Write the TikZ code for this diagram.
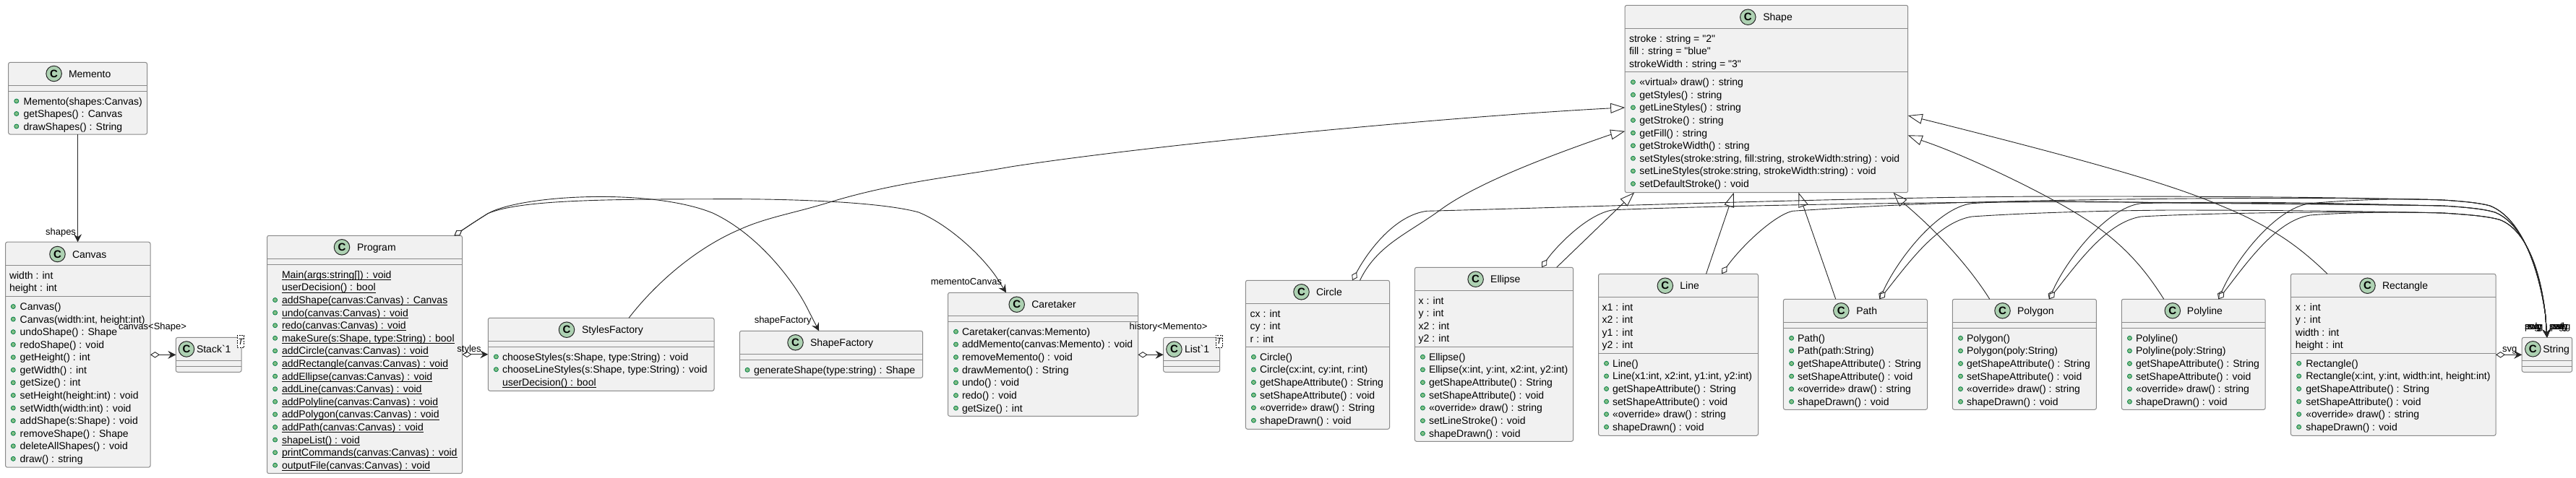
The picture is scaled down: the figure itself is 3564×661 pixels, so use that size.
\documentclass[tikz,border=0pt]{standalone}
\usepackage{fontspec}
\usetikzlibrary{arrows.meta,calc}
\newfontfamily\umlf{Liberation Sans}
\definecolor{boxfill}{HTML}{F1F1F1}
\definecolor{boxline}{HTML}{8A8A8A}
\definecolor{iconfill}{HTML}{ADD1B2}
\definecolor{bulfill}{HTML}{84BE84}
\definecolor{bulline}{HTML}{038048}
\definecolor{ink}{HTML}{262626}
\tikzset{
  classbox/.style={draw=boxline,fill=boxfill,line width=1pt,rounded corners=2.5pt,inner sep=0,outer sep=0,anchor=north west},
  sepline/.style={draw=boxline,line width=1pt},
  txt/.style={font=\umlf\fontsize{14}{16}\selectfont,text=black,inner sep=0,outer sep=0,anchor=base west},
  lab/.style={font=\umlf\fontsize{13}{15}\selectfont,text=black,inner sep=0,outer sep=0},
  cicon/.style={circle,draw=ink,fill=iconfill,line width=1pt,minimum size=21.5pt,inner sep=0,font=\umlf\bfseries\fontsize{15}{15}\selectfont},
  bullet/.style={fill=bulfill,draw=bulline,line width=.8pt},
  tbox/.style={draw=black,dashed,dash pattern=on 2pt off 1.5pt,line width=.7pt,fill=white,inner sep=0,minimum width=9.5pt,minimum height=17pt,font=\umlf\itshape\fontsize{12}{12}\selectfont},
  conn/.style={draw=ink,line width=.9pt},
  assoc/.style={conn,-{Stealth[length=11pt,width=11pt,inset=4pt]}},
  aggr/.style={conn,{Diamond[length=13pt,width=8.5pt,fill=white]}-{Stealth[length=11pt,width=11pt,inset=4pt]}},
  inhr/.style={conn,-{Triangle[length=20pt,width=14pt,fill=white]}}
}
\newcommand\ulx[1]{\setbox0\hbox{#1}\rlap{\rule[-2.6pt]{\wd0}{.9pt}}\box0}
\newcount\rowid
\newcommand\rowsat[5]{\gdef\rowax{#1}\gdef\rowbx{#2}\gdef\rowtx{#3}\gdef\rowy{#4}\gdef\rowstep{#5}}
\newcommand\rowadv{\pgfmathsetmacro\rowtmp{\rowy+\rowstep}\global\let\rowy\rowtmp}
\newcommand\rowA[1]{\global\advance\rowid 1 \node[txt] (row\the\rowid) at (\rowax,\rowy+5) {#1};\rowadv}
\newcommand\rowM[1]{\global\advance\rowid 1 \path[bullet] (\rowbx,\rowy) circle (3pt);\node[txt] (row\the\rowid) at (\rowtx,\rowy+5) {#1};\rowadv}
\newcommand\rowV[1]{\global\advance\rowid 1 \node[txt] (row\the\rowid) at (\rowtx,\rowy+5) {\ulx{#1}};\rowadv}
\newcommand\rowU[1]{\rowM{\ulx{#1}}}
% id x0 y0 x1 y1 line1 line2 cx cy tx title
\newcommand\umlclass[9]{\node[classbox,minimum width={(#4-#2)*1pt},minimum height={(#5-#3)*1pt}] (#1) at (#2,#3) {};
  \draw[sepline] (#2,#6) -- (#4,#6);\draw[sepline] (#2,#7) -- (#4,#7);
  \node[cicon] (#1-icon) at (#8,#9) {C};\umltitle{#1}{#9}}
\newcommand\umltitle[4]{\node[txt] (#1-title) at (#3,#2+5) {#4};}
\newcommand\tailA{.. controls (3410,279) and (3430,281) .. (3445,285) .. controls (3490,303) and (3513,375) .. (3521.7,436.7) -- (sT)}
\newcommand\tailB{.. controls (3410,287) and (3435,289) .. (3451.7,294) .. controls (3492,310) and (3514,375) .. (3521.7,436.7) -- (sT)}
\newcommand\tailC{.. controls (3410,297) and (3440,299) .. (3458.3,304.3) .. controls (3495,318) and (3515,375) .. (3521.7,436.7) -- (sT)}
\begin{document}
\begin{tikzpicture}[x=1pt,y=-1pt]
\useasboundingbox (0,0) rectangle (3564,661);
% ---- classes
\umlclass{Memento}{11.6}{86.4}{203.6}{186}{118.3}{126.3}{74.6}{102}{95}{Memento}
\rowsat{0}{22.8}{32.6}{140}{17.5}
\rowM{Memento(shapes:Canvas)}\rowM{getShapes() : Canvas}\rowM{drawShapes() : String}

\umlclass{Canvas}{7.6}{335.2}{208}{647.2}{367.4}{410.3}{79.5}{352}{100}{Canvas}
\rowsat{13}{18.3}{27.7}{381.2}{17}
\rowA{width : int}\rowA{height : int}
\rowsat{13}{18.3}{27.7}{424.5}{17.57}
\rowM{Canvas()}\rowM{Canvas(width:int, height:int)}\rowM{undoShape() : Shape}\rowM{redoShape() : void}\rowM{getHeight() : int}\rowM{getWidth() : int}\rowM{getSize() : int}\rowM{setHeight(height:int) : void}\rowM{setWidth(width:int) : void}\rowM{addShape(s:Shape) : void}\rowM{removeShape() : Shape}\rowM{deleteAllShapes() : void}\rowM{draw() : string}

\umlclass{Stack}{243.3}{467.4}{334}{515.3}{499.3}{507.3}{258}{483.5}{272}{Stack`1}
\node[tbox] (StackT) at (333,473) {T};

\umlclass{Program}{369.5}{326.3}{639.5}{655.7}{358.3}{366}{473}{342.3}{494}{Program}
\rowsat{0}{380.6}{390}{380.3}{17.6}
\rowV{Main(args:string[]) : void}\rowV{userDecision() : bool}
\rowU{addShape(canvas:Canvas) : Canvas}\rowU{undo(canvas:Canvas) : void}\rowU{redo(canvas:Canvas) : void}\rowU{makeSure(s:Shape, type:String) : bool}\rowU{addCircle(canvas:Canvas) : void}\rowU{addRectangle(canvas:Canvas) : void}\rowU{addEllipse(canvas:Canvas) : void}\rowU{addLine(canvas:Canvas) : void}\rowU{addPolyline(canvas:Canvas) : void}\rowU{addPolygon(canvas:Canvas) : void}\rowU{addPath(canvas:Canvas) : void}\rowU{shapeList() : void}\rowU{printCommands(canvas:Canvas) : void}\rowU{outputFile(canvas:Canvas) : void}

\umlclass{Styles}{675.3}{440.3}{988}{541.3}{472.3}{480.3}{784}{456.7}{805}{StylesFactory}
\rowsat{0}{686.4}{695}{494}{17.65}
\rowM{chooseStyles(s:Shape, type:String) : void}\rowM{chooseLineStyles(s:Shape, type:String) : void}\rowV{userDecision() : bool}

\umlclass{SFactory}{1023.4}{458.3}{1276.6}{523.3}{490.3}{498.3}{1100.5}{474.3}{1121}{ShapeFactory}
\rowsat{0}{1034}{1043}{512.3}{17.6}
\rowM{generateShape(type:string) : Shape}

\umlclass{Caretaker}{1311.5}{405.3}{1574.6}{576.3}{437.3}{445.3}{1406.7}{421.7}{1427.3}{Caretaker}
\rowsat{0}{1322.5}{1331}{459.3}{17.65}
\rowM{Caretaker(canvas:Memento)}\rowM{addMemento(canvas:Memento) : void}\rowM{removeMemento() : void}\rowM{drawMemento() : String}\rowM{undo() : void}\rowM{redo() : void}\rowM{getSize() : int}

\umlclass{ListT}{1609.6}{467.3}{1687.6}{515.3}{499.3}{507}{1624.4}{483.7}{1639}{List`1}
\node[tbox] (ListTT) at (1686.7,472.7) {T};

\umlclass{CircleC}{1723.4}{388.3}{1922.5}{594.3}{420.3}{480.3}{1800.5}{404.3}{1821}{Circle}
\rowsat{1729.7}{0}{0}{434.3}{17.4}
\rowA{cx : int}\rowA{cy : int}\rowA{r : int}
\rowsat{0}{1734.4}{1743}{494.3}{17.6}
\rowM{Circle()}\rowM{Circle(cx:int, cy:int, r:int)}\rowM{getShapeAttribute() : String}\rowM{setShapeAttribute() : void}\rowM{«override» draw() : String}\rowM{shapeDrawn() : void}

\umlclass{EllipseC}{1957.4}{370.3}{2176.6}{611.3}{402.3}{480.3}{2041.6}{386.7}{2062.2}{Ellipse}
\rowsat{1962.7}{0}{0}{416.3}{17.4}
\rowA{x : int}\rowA{y : int}\rowA{x2 : int}\rowA{y2 : int}
\rowsat{0}{1968.4}{1977}{494.3}{17.67}
\rowM{Ellipse()}\rowM{Ellipse(x:int, y:int, x2:int, y2:int)}\rowM{getShapeAttribute() : String}\rowM{setShapeAttribute() : void}\rowM{«override» draw() : string}\rowM{setLineStroke() : void}\rowM{shapeDrawn() : void}

\umlclass{LineC}{2211.5}{379.3}{2432.5}{603.3}{411.3}{489.3}{2303.8}{395.7}{2324.4}{Line}
\rowsat{2216.7}{0}{0}{425.3}{17.4}
\rowA{x1 : int}\rowA{x2 : int}\rowA{y1 : int}\rowA{y2 : int}
\rowsat{0}{2222.5}{2231}{503.3}{17.6}
\rowM{Line()}\rowM{Line(x1:int, x2:int, y1:int, y2:int)}\rowM{getShapeAttribute() : String}\rowM{setShapeAttribute() : void}\rowM{«override» draw() : string}\rowM{shapeDrawn() : void}

\umlclass{Shape}{2248.2}{7.3}{2639.7}{266.7}{39.3}{99.3}{2418.3}{23.7}{2439.3}{Shape}
\rowsat{2254}{0}{0}{53.3}{17.5}
\rowA{stroke : string = "2"}\rowA{fill : string = "blue"}\rowA{strokeWidth : string = "3"}
\rowsat{0}{2259.4}{2268.3}{113.7}{17.6}
\rowM{«virtual» draw() : string}\rowM{getStyles() : string}\rowM{getLineStyles() : string}\rowM{getStroke() : string}\rowM{getFill() : string}\rowM{getStrokeWidth() : string}\rowM{setStyles(stroke:string, fill:string, strokeWidth:string) : void}\rowM{setLineStyles(stroke:string, strokeWidth:string) : void}\rowM{setDefaultStroke() : void}

\umlclass{PathC}{2467.4}{414.3}{2666.5}{567.3}{446.3}{454.3}{2547.3}{430.3}{2568.3}{Path}
\rowsat{0}{2478.6}{2487}{468.3}{17.6}
\rowM{Path()}\rowM{Path(path:String)}\rowM{getShapeAttribute() : String}\rowM{setShapeAttribute() : void}\rowM{«override» draw() : string}\rowM{shapeDrawn() : void}

\umlclass{PolygonC}{2701.3}{414.3}{2900.4}{567.3}{446.3}{454.3}{2770.5}{430.3}{2791}{Polygon}
\rowsat{0}{2712.5}{2721}{468.3}{17.6}
\rowM{Polygon()}\rowM{Polygon(poly:String)}\rowM{getShapeAttribute() : String}\rowM{setShapeAttribute() : void}\rowM{«override» draw() : string}\rowM{shapeDrawn() : void}

\umlclass{PolylineC}{2935.3}{414.3}{3134.2}{567.3}{446.3}{454.3}{3005.8}{430.3}{3025.9}{Polyline}
\rowsat{0}{2946.4}{2955}{468.3}{17.6}
\rowM{Polyline()}\rowM{Polyline(poly:String)}\rowM{getShapeAttribute() : String}\rowM{setShapeAttribute() : void}\rowM{«override» draw() : string}\rowM{shapeDrawn() : void}

\umlclass{RectC}{3169.4}{379.3}{3453}{603.3}{411.3}{489.3}{3275.5}{395.7}{3296}{Rectangle}
\rowsat{3175.9}{0}{0}{425.3}{17.4}
\rowA{x : int}\rowA{y : int}\rowA{width : int}\rowA{height : int}
\rowsat{0}{3180.6}{3190.3}{503.3}{17.6}
\rowM{Rectangle()}\rowM{Rectangle(x:int, y:int, width:int, height:int)}\rowM{getShapeAttribute() : String}\rowM{setShapeAttribute() : void}\rowM{«override» draw() : string}\rowM{shapeDrawn() : void}

\umlclass{StringC}{3489.2}{467.3}{3558.6}{515.3}{499.3}{507.3}{3504.3}{483.3}{3518.3}{String}

% ---- connector ports
\coordinate (pP) at ([xshift=-11pt]Program.north east);
\coordinate (pSF) at ([xshift=-17pt]SFactory.north);
\coordinate (pCT) at ([xshift=-51pt]Caretaker.north);
\coordinate (pSt) at ([xshift=38.4pt]Styles.north);
\coordinate (tL1) at ([yshift=-141.7pt]Shape.north west);
\coordinate (tL2) at ([yshift=-174.4pt]Shape.north west);
\coordinate (tR1) at ([yshift=-152.7pt]Shape.north east);
\coordinate (tR2) at ([yshift=-180pt]Shape.north east);
\coordinate (iC) at ([xshift=58.5pt]CircleC.north);
\coordinate (iE) at ([xshift=86.6pt]EllipseC.north);
\coordinate (iL) at ([xshift=38.5pt]LineC.north);
\coordinate (iPa) at ([xshift=-27.2pt]PathC.north);
\coordinate (iPg) at ([xshift=-48.1pt]PolygonC.north);
\coordinate (iPl) at ([xshift=-41pt]PolylineC.north);
\coordinate (iR) at ([xshift=-91.2pt]RectC.north);
\coordinate (tB1) at ([xshift=12.8pt]Shape.south west);
\coordinate (tB2) at ([xshift=150.5pt]Shape.south west);
\coordinate (tB3) at ([xshift=240.2pt]Shape.south west);
\coordinate (tB4) at ([xshift=371.3pt]Shape.south west);
\coordinate (dC) at ([xshift=48pt]CircleC.north);
\coordinate (dE) at ([xshift=66pt]EllipseC.north);
\coordinate (dL) at ([xshift=60pt]LineC.north);
\coordinate (dPa) at ([xshift=33.5pt]PathC.north);
\coordinate (dPg) at ([xshift=34pt]PolygonC.north);
\coordinate (dPl) at ([xshift=34.5pt]PolylineC.north);
\coordinate (sT) at (StringC.north);

% ---- inheritance
\draw[inhr] (pSt) .. controls (905,395) and (960,345) .. (1023,318) .. controls (1060,301) and (1100,295) .. (1148,280) .. controls (1240,252) and (1320,245) .. (1400,230.7) .. controls (1600,200) and (2000,162) .. (2226,150) -- (tL1);
\draw[inhr] (iC) .. controls (1905,340) and (1945,325) .. (1991,292) .. controls (2040,255) and (2140,217) .. (2226.6,187) -- (tL2);
\draw[inhr] (iE) -- (tB1);
\draw[inhr] (iL) -- (tB2);
\draw[inhr] (iPa) -- (tB3);
\draw[inhr] (iPg) .. controls (2725,370) and (2680,320) .. (2632,280) -- (tB4);
\draw[inhr] (iPl) .. controls (2975,385) and (2945,340) .. (2880,300) .. controls (2830,268) and (2720,215) .. (2660,195) -- (tR2);
\draw[inhr] (iR) .. controls (3195,355) and (3170,335) .. (3144,320) .. controls (3110,300) and (3090,292) .. (3061,280) .. controls (3000,255) and (2900,225) .. (2660,165) -- (tR1);

% ---- simple associations
\draw[assoc] (Memento.south) -- (Memento.south |- Canvas.north);
\draw[aggr] (Canvas.east |- Stack.center) -- (Stack.west);
\draw[aggr] (Program.east |- Styles.center) -- (Styles.west);
\draw[aggr] (Caretaker.east |- ListT.center) -- (ListT.west);
\draw[aggr] (RectC.east |- StringC.center) -- (StringC.west);

% ---- Program arcs
\draw[aggr] (pP) .. controls (645,315) and (660,305) .. (675,295.7) .. controls (720,270) and (900,260) .. (986,295) .. controls (1050,325) and (1098,390) .. (1116,425) -- (pSF);
\draw[aggr] (pP) .. controls (645,315) and (660,305) .. (675,295.7) .. controls (720,276) and (850,276) .. (986,275.7) .. controls (1100,275) and (1220,280) .. (1271,294) .. controls (1310,310) and (1355,350) .. (1378,383) -- (pCT);

% ---- bundle into String
\draw[aggr] (dC) .. controls (1893,347) and (1930,298) .. (1974,292.3) .. controls (2150,288) and (2600,272) .. (2850,272) .. controls (3000,272) and (3200,272) .. (3380,277) \tailA;
\draw[aggr] (dE) .. controls (2150,345) and (2195,296) .. (2232,290.7) .. controls (2400,284) and (2700,279.7) .. (2850,279.7) .. controls (3000,280) and (3200,282) .. (3380,285) \tailB;
\draw[aggr] (dL) .. controls (2410,340) and (2455,298) .. (2480,292.3) .. controls (2560,287) and (2640,283) .. (2700,281) .. controls (2900,275) and (3200,272) .. (3380,277) \tailA;
\draw[aggr] (dPa) .. controls (2625,360) and (2680,288) .. (2728,281.7) .. controls (2800,277) and (2900,279) .. (3000,281) .. controls (3100,282) and (3250,283) .. (3380,285) \tailB;
\draw[aggr] (dPa) .. controls (2640,365) and (2680,308) .. (2728,300) .. controls (2800,295) and (2900,292) .. (3000,291) .. controls (3100,291) and (3250,292) .. (3380,295) \tailC;
\draw[aggr] (dPg) .. controls (2859,360) and (2914,288) .. (2962,281.7) .. controls (3100,278) and (3250,282) .. (3380,285) \tailB;
\draw[aggr] (dPg) .. controls (2874,365) and (2914,308) .. (2962,300) .. controls (3050,295) and (3250,292) .. (3380,295) \tailC;
\draw[aggr] (dPl) .. controls (3093,360) and (3148,288) .. (3196,281.7) .. controls (3250,277) and (3320,274) .. (3380,277) \tailA;
\draw[aggr] (dPl) .. controls (3108,365) and (3148,306) .. (3196,298) .. controls (3250,294) and (3320,293) .. (3380,295) \tailC;

% ---- labels
\node[lab,anchor=base east] (l1) at (105,325) {shapes};
\node[lab,anchor=base west] (l2) at (164,456.5) {canvas<Shape>};
\node[lab,anchor=base west] (l3) at (632.4,487.5) {styles};
\node[lab,anchor=base east] (l4) at (1122.5,447.5) {shapeFactory};
\node[lab,anchor=base east] (l5) at (1386,394.5) {mementoCanvas};
\node[lab,anchor=base west] (l6) at (1562.7,456.5) {history<Memento>};
\node[lab,anchor=base west] (l7) at (3462,487.5) {svg};
\foreach \lx/\lt [count=\li] in {3493/svg,3493/poly,3498/svg,3496/svg,3527/path,3527/svg,3529/poly,3536/svg,3532/svg}
  \node[lab,anchor=base west] (s\li) at (\lx,456.5) {\lt};
\end{tikzpicture}
\end{document}
